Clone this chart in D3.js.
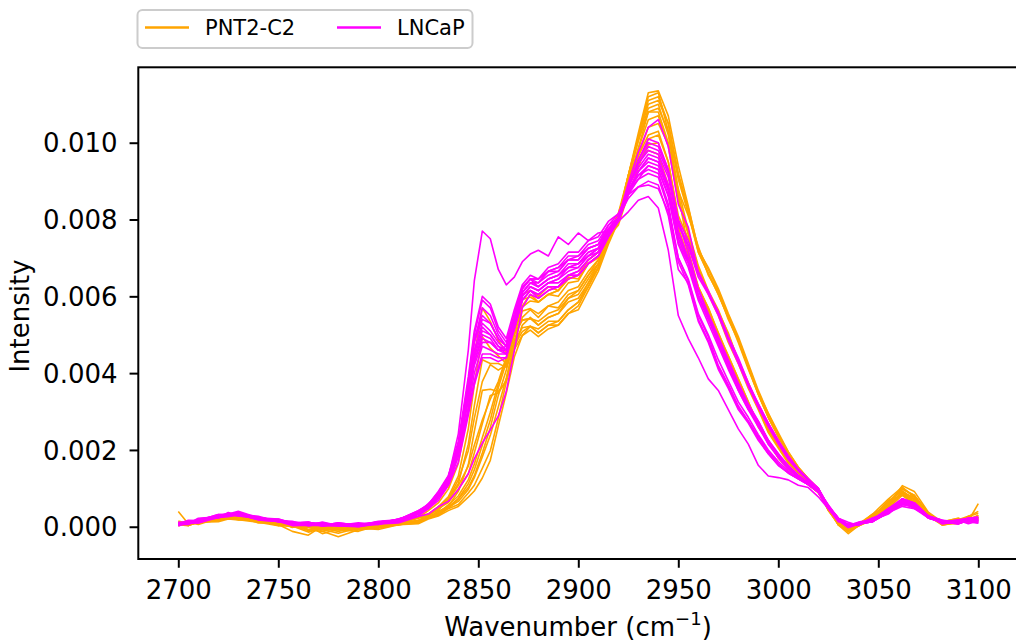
<!DOCTYPE html>
<head>
    <script src="https://d3js.org/d3.v7.min.js"></script>
    <title>Raman spectra PNT2-C2 vs LNCaP</title>
    <style>
        body { margin: 0; background: white; }
        text { font-family: "DejaVu Sans", sans-serif; }
    </style>
</head>
<body>
<svg width="1016" height="641" class="chart" style="background-color: white"></svg>
<script>
    // wavenumber grid (cm-1) the spectra were read at
    const wavenumbers = [
        2700, 2705, 2710, 2720, 2725, 2730, 2740, 2750, 2757, 2765,
        2772, 2780, 2790, 2800, 2810, 2820, 2825, 2830, 2835, 2840,
        2845, 2848, 2852, 2856, 2860, 2864, 2868, 2872, 2876, 2880,
        2885, 2890, 2895, 2900, 2905, 2910, 2915, 2920, 2925, 2930,
        2935, 2940, 2945, 2950, 2955, 2960, 2965, 2970, 2975, 2980,
        2985, 2990, 2995, 3000, 3005, 3010, 3015, 3020, 3025, 3030,
        3035, 3040, 3047, 3055, 3062, 3068, 3075, 3082, 3090, 3095, 3100];

    // intensities, in units of 1e-3
    const pntSpectra = [
        [0.40,0.08,0.14,0.20,0.30,0.22,0.20,0.08,0.06,-0.08, 0.04,-0.02,0.05,0.03,0.14,0.24,0.42,0.62,0.98,1.65,
         3.05,4.45,5.70,5.35,4.85,4.55,5.35,6.05,6.15,6.00, 6.25,6.15,6.50,6.45,6.85,7.05,7.55,7.85,8.65,9.35,
         10.10,10.20,9.50,8.10,7.50,6.60,6.05,5.50,4.80,4.25, 3.60,3.05,2.45,2.05,1.65,1.40,1.15,0.90,0.45,0.15,
         -0.02,0.08,0.18,0.52,0.92,0.70,0.28,0.12,0.18,0.15,0.60],
        [0.05,0.10,0.12,0.24,0.22,0.30,0.14,0.14,-0.02,0.08, -0.12,-0.02,0.02,0.06,0.08,0.24,0.33,0.52,0.78,1.32,
         2.55,3.70,4.95,4.65,4.45,4.25,5.05,5.75,6.05,5.85, 6.05,6.00,6.35,6.40,6.85,7.00,7.65,8.05,8.95,9.65,
         10.40,10.50,9.95,8.75,8.10,7.30,6.55,6.10,5.40,4.85, 4.15,3.45,2.85,2.35,1.90,1.50,1.20,0.95,0.42,0.08,
         -0.08,0.06,0.28,0.52,0.88,0.66,0.28,0.04,0.14,0.22,0.20],
        [0.10,0.03,0.12,0.16,0.27,0.20,0.14,0.06,-0.12,-0.22, 0.02,-0.08,0.02,0.00,0.10,0.16,0.32,0.43,0.72,1.12,
         2.15,3.15,4.35,4.25,4.25,4.15,4.85,5.45,5.65,5.45, 5.75,5.70,6.05,6.15,6.55,6.85,7.45,7.95,8.95,9.85,
         10.80,10.80,10.00,8.60,7.65,6.75,6.10,5.60,5.05,4.30, 3.75,3.10,2.50,2.10,1.70,1.40,1.15,0.90,0.48,0.12,
         -0.12,0.04,0.18,0.58,1.02,0.78,0.28,0.12,0.12,0.12,0.25],
        [0.08,0.12,0.10,0.22,0.20,0.27,0.13,0.06,0.00,0.02, -0.18,-0.06,-0.08,0.02,0.04,0.16,0.24,0.40,0.53,0.92,
         1.62,2.48,3.55,3.58,3.52,3.78,4.65,5.25,5.45,5.25, 5.45,5.55,5.85,5.95,6.35,6.75,7.45,8.05,9.15,10.15,
         11.10,11.20,10.50,9.20,8.30,7.25,6.70,6.15,5.50,4.90, 4.20,3.50,2.95,2.40,1.95,1.55,1.25,1.00,0.48,0.08,
         -0.08,0.06,0.22,0.68,0.82,0.72,0.28,0.12,0.22,0.12,0.30],
        [0.05,0.06,0.12,0.16,0.22,0.20,0.14,0.06,0.02,-0.08, -0.12,-0.26,-0.08,-0.04,0.06,0.10,0.22,0.30,0.47,0.58,
         0.88,1.08,1.52,1.98,2.82,3.78,4.62,4.98,5.12,4.95, 5.15,5.25,5.55,5.65,6.15,6.65,7.35,7.95,9.05,10.15,
         11.20,11.30,10.30,8.70,7.20,6.25,5.70,5.00,4.45,3.85, 3.25,2.65,2.25,1.85,1.55,1.30,1.10,0.90,0.52,0.05,
         -0.18,0.02,0.18,0.62,0.98,0.82,0.36,0.04,0.12,0.18,0.30],
        [0.02,0.12,0.06,0.22,0.23,0.22,0.13,0.07,0.03,-0.10, 0.02,-0.08,-0.12,0.04,0.06,0.17,0.23,0.40,0.48,0.72,
         1.02,1.33,1.92,2.58,3.42,4.08,4.82,5.18,5.22,5.15, 5.35,5.35,5.65,5.85,6.35,6.85,7.45,8.05,9.05,10.05,
         10.90,11.00,10.20,8.80,7.70,6.80,6.15,5.65,5.00,4.35, 3.70,3.10,2.55,2.10,1.70,1.45,1.15,0.92,0.48,0.10,
         -0.08,0.07,0.22,0.57,0.88,0.77,0.28,0.12,0.13,0.27,0.20],
        [0.10,0.03,0.14,0.20,0.27,0.26,0.20,0.08,0.07,0.00, -0.07,0.02,0.00,0.07,0.08,0.22,0.28,0.47,0.63,0.97,
         1.38,1.92,2.68,3.42,3.48,3.82,4.78,5.62,5.68,5.55, 5.75,5.85,6.15,6.25,6.65,6.95,7.55,8.05,8.95,9.65,
         10.20,10.30,9.50,8.00,7.10,6.20,5.70,5.05,4.40,3.80, 3.20,2.60,2.20,1.80,1.50,1.30,1.10,0.90,0.48,0.10,
         0.02,0.03,0.32,0.58,0.87,0.63,0.32,0.13,0.22,0.13,0.25],
        [0.05,0.03,0.12,0.13,0.20,0.18,0.12,0.03,0.02,-0.14, -0.03,-0.04,-0.03,-0.07,0.05,0.08,0.20,0.28,0.42,0.53,
         0.77,0.93,1.27,1.73,2.62,3.48,4.42,4.98,5.22,5.05, 5.25,5.25,5.55,5.75,6.25,6.75,7.45,8.05,9.15,10.25,
         11.30,11.35,10.70,9.40,8.35,7.20,6.75,6.20,5.55,4.95, 4.25,3.55,2.95,2.45,1.95,1.55,1.25,0.98,0.45,0.05,
         -0.12,0.02,0.18,0.57,1.07,0.92,0.38,0.12,0.13,0.27,0.35],
        [0.08,0.14,0.13,0.27,0.26,0.27,0.16,0.14,0.06,0.07, -0.02,0.04,0.03,0.10,0.10,0.24,0.30,0.50,0.68,1.07,
         1.58,2.12,2.78,3.32,3.78,4.42,5.18,5.92,5.98,5.85, 6.05,6.15,6.45,6.55,6.95,7.15,7.65,8.05,8.85,9.45,
         9.95,10.00,9.20,7.80,7.00,6.25,5.65,5.05,4.45,3.85, 3.25,2.65,2.20,1.80,1.50,1.30,1.10,0.88,0.52,0.15,
         0.02,0.08,0.27,0.48,0.82,0.58,0.27,0.08,0.17,0.18,0.15],
        [0.05,0.07,0.13,0.20,0.23,0.27,0.10,0.10,0.00,0.00, -0.07,-0.17,-0.03,-0.02,0.08,0.13,0.24,0.33,0.52,0.73,
         1.12,1.48,2.12,2.78,3.62,4.28,5.02,5.38,5.42,5.35, 5.55,5.65,5.95,6.05,6.45,6.85,7.45,7.95,8.95,9.85,
         10.60,10.70,9.90,8.50,7.60,6.70,6.10,5.55,4.95,4.35, 3.75,3.15,2.55,2.10,1.70,1.45,1.20,0.95,0.52,0.10,
         -0.07,0.07,0.23,0.62,0.98,0.82,0.33,0.07,0.08,0.17,0.25],
        [0.12,0.06,0.12,0.18,0.22,0.20,0.17,0.03,0.07,-0.07, -0.06,-0.07,0.02,0.00,0.08,0.12,0.24,0.32,0.50,0.66,
         0.97,1.28,1.82,2.38,3.12,3.88,4.72,5.08,5.22,5.05, 5.25,5.35,5.65,5.85,6.25,6.75,7.45,8.05,9.15,10.15,
         11.00,11.10,10.50,9.15,8.20,7.15,6.60,6.05,5.45,4.80, 4.10,3.45,2.85,2.35,1.90,1.55,1.25,0.95,0.48,0.05,
         -0.12,0.02,0.23,0.67,0.93,0.72,0.28,0.12,0.18,0.27,0.40],
        [0.05,0.12,0.10,0.24,0.26,0.30,0.18,0.14,0.03,0.02, 0.00,0.02,0.01,0.08,0.08,0.24,0.33,0.52,0.73,1.22,
         1.98,2.82,3.78,4.22,4.08,4.22,4.98,5.72,5.88,5.85, 6.05,6.15,6.45,6.55,6.95,7.15,7.65,8.15,8.95,9.55,
         9.80,9.70,8.90,7.70,6.95,6.20,5.60,5.00,4.40,3.80, 3.20,2.60,2.20,1.80,1.50,1.30,1.10,0.90,0.47,0.10,
         0.02,0.03,0.32,0.53,0.87,0.58,0.32,0.08,0.12,0.18,0.20],
        [0.15,0.08,0.14,0.16,0.24,0.18,0.17,0.08,0.00,-0.02, -0.03,-0.12,0.00,0.01,0.10,0.14,0.27,0.36,0.57,0.80,
         1.22,1.63,2.32,2.98,3.72,4.38,5.02,5.38,5.42,5.25, 5.45,5.55,5.95,6.15,6.55,6.95,7.55,8.15,9.15,10.05,
         10.80,10.90,10.30,9.05,8.15,7.15,6.60,6.05,5.45,4.85, 4.15,3.45,2.85,2.35,1.90,1.50,1.20,0.95,0.43,0.08,
         -0.07,0.07,0.32,0.72,1.03,0.77,0.28,0.12,0.13,0.17,0.25]
    ];

    const lncapSpectra = [
        [0.05,0.14,0.13,0.30,0.30,0.32,0.20,0.14,0.08,0.07, 0.06,0.08,0.02,0.12,0.16,0.37,0.53,0.87,1.28,2.42,
         4.60,6.40,7.70,7.50,6.70,6.30,6.50,6.90,7.10,7.20, 7.05,7.55,7.35,7.65,7.45,7.65,7.70,7.95,8.20,8.50,
         8.60,8.30,7.20,5.50,4.90,4.40,3.85,3.55,3.05,2.55, 2.15,1.60,1.32,1.28,1.22,1.08,1.02,0.78,0.47,0.13,
         0.07,0.08,0.17,0.33,0.62,0.48,0.27,0.08,0.14,0.13,0.10],
        [0.02,0.12,0.13,0.30,0.30,0.37,0.23,0.17,0.10,0.10, 0.03,0.10,0.03,0.12,0.18,0.42,0.58,0.92,1.33,2.22,
         3.90,5.10,6.00,5.80,5.20,4.90,5.65,6.30,6.55,6.45, 6.65,6.75,6.95,7.05,7.25,7.35,7.75,7.95,8.65,9.05,
         9.40,9.30,8.60,7.40,6.85,6.00,5.45,4.75,4.25,3.55, 3.05,2.70,2.15,1.85,1.55,1.30,1.15,0.95,0.53,0.22,
         0.03,0.07,0.13,0.37,0.58,0.57,0.28,0.17,0.13,0.22,0.15],
        [0.05,0.06,0.20,0.23,0.37,0.30,0.24,0.16,0.12,0.08, 0.10,0.03,0.10,0.06,0.20,0.36,0.60,0.83,1.32,2.08,
         3.80,5.00,5.90,5.70,5.10,4.80,5.55,6.25,6.45,6.35, 6.65,6.75,7.05,7.05,7.35,7.45,7.85,8.05,8.55,8.85,
         9.00,8.90,8.10,6.70,6.35,5.40,4.85,4.15,3.65,3.10, 2.75,2.30,1.90,1.60,1.40,1.25,1.10,0.90,0.48,0.22,
         0.12,0.03,0.22,0.38,0.72,0.48,0.27,0.08,0.12,0.13,0.10],
        [0.08,0.14,0.13,0.27,0.28,0.32,0.20,0.17,0.06,0.07, 0.03,0.04,0.03,0.10,0.13,0.37,0.53,0.82,1.18,2.02,
         3.60,4.80,5.70,5.50,5.00,4.70,5.35,6.00,6.25,6.15, 6.35,6.35,6.55,6.55,6.85,7.05,7.55,8.05,8.95,9.75,
         10.40,10.60,9.90,8.40,7.80,6.60,6.15,5.55,4.90,4.30, 3.70,3.15,2.65,2.20,1.80,1.50,1.20,1.00,0.53,0.22,
         0.03,0.07,0.18,0.47,0.73,0.62,0.28,0.12,0.13,0.22,0.20],
        [0.10,0.08,0.22,0.26,0.32,0.33,0.27,0.13,0.12,0.03, 0.12,0.03,0.07,0.08,0.20,0.33,0.57,0.78,1.27,2.03,
         3.50,4.60,5.30,5.10,4.80,4.60,5.35,6.10,6.35,6.25, 6.45,6.55,6.75,6.85,7.05,7.25,7.65,7.95,8.65,9.25,
         9.60,9.50,8.85,7.60,6.95,6.05,5.45,4.85,4.20,3.65, 3.10,2.70,2.20,1.85,1.55,1.30,1.15,0.95,0.57,0.18,
         0.07,0.08,0.22,0.38,0.67,0.53,0.27,0.13,0.17,0.08,0.15],
        [0.05,0.12,0.10,0.27,0.28,0.32,0.18,0.14,0.08,0.07, 0.03,0.07,0.00,0.10,0.13,0.37,0.50,0.80,1.18,2.02,
         3.50,4.50,5.20,5.00,4.70,4.60,5.25,6.00,6.25,6.15, 6.35,6.45,6.65,6.75,7.05,7.15,7.65,8.05,8.85,9.45,
         9.80,9.70,9.10,7.85,7.30,6.50,6.05,5.50,4.85,4.25, 3.65,3.10,2.60,2.15,1.75,1.45,1.20,1.00,0.53,0.22,
         0.03,0.07,0.13,0.37,0.68,0.62,0.28,0.17,0.08,0.17,0.20],
        [0.08,0.17,0.16,0.32,0.33,0.40,0.23,0.20,0.10,0.12, 0.03,0.10,0.04,0.12,0.16,0.34,0.48,0.77,1.13,1.92,
         3.30,4.30,5.00,4.90,4.60,4.50,5.15,5.90,6.15,6.05, 6.25,6.25,6.55,6.55,6.85,7.05,7.55,7.95,8.85,9.55,
         10.10,10.00,9.30,7.95,7.15,6.20,5.55,4.95,4.35,3.75, 3.20,2.75,2.25,1.90,1.60,1.35,1.15,0.95,0.48,0.17,
         0.03,0.07,0.18,0.42,0.73,0.62,0.28,0.12,0.13,0.22,0.25],
        [0.05,0.07,0.13,0.30,0.28,0.34,0.20,0.20,0.10,0.10, 0.08,0.07,0.03,0.14,0.18,0.42,0.56,0.90,1.28,2.12,
         3.40,4.30,4.90,4.80,4.60,4.60,5.35,6.20,6.45,6.45, 6.65,6.65,6.95,6.95,7.25,7.35,7.85,8.15,8.75,9.15,
         9.30,9.20,8.40,7.00,6.40,5.50,4.95,4.20,3.70,3.15, 2.75,2.35,1.95,1.65,1.40,1.25,1.10,0.90,0.48,0.17,
         -0.02,0.07,0.18,0.42,0.58,0.52,0.23,0.12,0.08,0.17,0.20],
        [0.10,0.14,0.13,0.27,0.30,0.32,0.20,0.17,0.08,0.10, 0.03,0.07,0.03,0.10,0.13,0.32,0.46,0.74,1.08,1.82,
         3.10,4.00,4.70,4.60,4.50,4.50,5.25,6.00,6.25,6.15, 6.35,6.45,6.75,6.75,7.05,7.25,7.65,8.05,8.75,9.25,
         9.50,9.40,8.75,7.50,6.90,6.00,5.40,4.80,4.15,3.60, 3.10,2.65,2.20,1.85,1.55,1.30,1.15,0.95,0.53,0.22,
         0.03,0.07,0.13,0.42,0.63,0.57,0.28,0.12,0.18,0.22,0.15],
        [0.05,0.12,0.16,0.32,0.30,0.37,0.23,0.17,0.10,0.10, 0.06,0.07,0.06,0.12,0.16,0.37,0.53,0.82,1.18,1.92,
         3.00,3.80,4.50,4.50,4.40,4.40,5.15,5.90,6.15,6.05, 6.25,6.25,6.55,6.65,6.95,7.15,7.65,8.05,8.85,9.45,
         9.90,9.80,9.20,7.90,7.35,6.60,6.10,5.55,4.90,4.35, 3.70,3.20,2.70,2.25,1.80,1.50,1.25,1.00,0.53,0.22,
         0.03,0.12,0.18,0.47,0.68,0.57,0.23,0.12,0.13,0.17,0.20],
        [0.12,0.08,0.17,0.23,0.30,0.28,0.22,0.13,0.10,0.03, 0.07,0.03,0.04,0.06,0.17,0.28,0.47,0.68,1.07,1.68,
         2.90,3.70,4.40,4.40,4.30,4.40,5.25,6.10,6.35,6.35, 6.55,6.65,6.95,6.95,7.25,7.35,7.75,8.05,8.75,9.05,
         9.20,9.10,8.30,6.90,6.30,5.35,4.80,4.10,3.60,3.05, 2.70,2.25,1.90,1.60,1.40,1.25,1.10,0.90,0.48,0.17,
         -0.02,0.07,0.18,0.37,0.58,0.52,0.23,0.12,0.08,0.22,0.15],
        [0.05,0.10,0.10,0.24,0.26,0.32,0.18,0.14,0.03,0.04, 0.03,0.02,0.00,0.07,0.10,0.27,0.33,0.52,0.66,0.97,
         1.38,1.77,2.18,2.52,2.88,3.52,4.58,5.70,6.05,5.95, 6.15,6.25,6.55,6.65,6.95,7.15,7.65,8.05,8.85,9.35,
         9.70,9.60,8.90,7.70,7.00,6.15,5.50,4.90,4.30,3.70, 3.15,2.75,2.25,1.90,1.55,1.30,1.15,0.95,0.53,0.22,
         0.03,0.07,0.18,0.42,0.68,0.57,0.28,0.12,0.08,0.17,0.20],
        [0.08,0.12,0.13,0.30,0.30,0.34,0.20,0.17,0.08,0.12, 0.03,0.07,0.06,0.12,0.18,0.40,0.58,0.90,1.28,2.17,
         3.70,4.80,5.40,5.30,4.90,4.70,5.45,6.20,6.45,6.45, 6.75,6.85,7.15,7.15,7.45,7.55,7.95,8.15,8.65,8.85,
         8.90,8.80,8.20,7.00,6.45,5.55,5.00,4.35,3.80,3.25, 2.85,2.40,2.00,1.70,1.45,1.25,1.10,0.90,0.48,0.22,
         0.03,0.07,0.13,0.37,0.53,0.47,0.23,0.12,0.13,0.17,0.10],
        [0.05,0.14,0.13,0.27,0.28,0.37,0.20,0.17,0.06,0.07, 0.06,0.07,0.03,0.10,0.16,0.37,0.50,0.80,1.16,1.97,
         3.40,4.40,5.10,5.00,4.70,4.50,5.15,5.90,6.15,5.95, 6.15,6.25,6.45,6.55,6.85,7.05,7.55,7.95,8.85,9.55,
         10.00,9.90,9.30,8.00,7.45,6.65,6.10,5.60,4.95,4.40, 3.75,3.20,2.70,2.25,1.85,1.50,1.25,1.00,0.53,0.22,
         0.03,0.07,0.18,0.47,0.72,0.62,0.28,0.12,0.13,0.22,0.25],
        [0.10,0.08,0.20,0.28,0.35,0.28,0.24,0.16,0.14,0.03, 0.07,0.06,0.07,0.08,0.20,0.33,0.57,0.80,1.24,1.98,
         3.30,4.20,4.80,4.80,4.60,4.70,5.45,6.20,6.45,6.25, 6.45,6.55,6.85,6.85,7.15,7.25,7.75,8.05,8.75,9.15,
         9.40,9.30,8.65,7.35,6.75,5.90,5.30,4.70,4.10,3.55, 3.05,2.60,2.15,1.80,1.50,1.30,1.15,0.95,0.53,0.22,
         0.03,0.07,0.22,0.38,0.62,0.53,0.28,0.17,0.08,0.17,0.15],
        [0.05,0.12,0.13,0.27,0.28,0.34,0.23,0.17,0.08,0.10, 0.03,0.07,0.03,0.12,0.16,0.40,0.56,0.87,1.23,2.12,
         3.70,4.90,5.50,5.30,4.90,4.70,5.35,6.10,6.35,6.25, 6.45,6.55,6.75,6.85,7.15,7.25,7.75,8.05,8.75,9.25,
         9.60,9.50,8.80,7.50,6.90,6.00,5.40,4.85,4.25,3.70, 3.15,2.70,2.25,1.85,1.55,1.30,1.15,0.95,0.57,0.22,
         0.03,0.07,0.13,0.42,0.72,0.53,0.23,0.12,0.17,0.22,0.15]
    ];

    const groups = ["PNT2-C2", "LNCaP"];
    const groupColors = ["orange", "magenta"];
    const xTicks = [2700, 2750, 2800, 2850, 2900, 2950, 3000, 3050, 3100];
    const yTicks = [0, 0.002, 0.004, 0.006, 0.008, 0.010];

    const margin = {top: 67.3, right: -2.3, bottom: 82, left: 138.3},
        width = 1016 - margin.left - margin.right,
        height = 641 - margin.top - margin.bottom;

    const svg = d3.select(".chart");

    const x = d3.scaleLinear().domain([2680, 3120]).range([0, width]);
    const y = d3.scaleLinear().domain([-0.00084, 0.011964]).range([height, 0]);

    const g = svg.append("g")
        .attr("transform", "translate(" + margin.left + "," + margin.top + ")");

    g.append("clipPath").attr("id", "plotClip")
        .append("rect").attr("width", width).attr("height", height);

    const line = d3.line()
        .x(function(d, i){ return x(wavenumbers[i]); })
        .y(function(d){ return y(d * 1e-3); });

    const lines = g.append("g").attr("clip-path", "url(#plotClip)");

    [pntSpectra, lncapSpectra].forEach(function(set, k){
        lines.append("g")
            .selectAll("path")
            .data(set)
            .enter()
            .append("path")
            .attr("d", line)
            .attr("fill", "none")
            .attr("stroke", groupColors[k])
            .attr("stroke-width", 1.6)
            .attr("stroke-linejoin", "round");
    });

    // axes
    const xAxis = g.append("g")
        .attr("transform", "translate(0," + height + ")")
        .call(d3.axisBottom(x).tickValues(xTicks).tickFormat(d3.format("d"))
            .tickSize(8.75).tickSizeOuter(0).tickPadding(13));
    const yAxis = g.append("g")
        .call(d3.axisLeft(y).tickValues(yTicks).tickFormat(d3.format(".3f"))
            .tickSize(8.75).tickSizeOuter(0).tickPadding(12));

    [xAxis, yAxis].forEach(function(a){
        a.select(".domain").remove();
        a.selectAll(".tick line").attr("stroke", "black").attr("stroke-width", 2);
        a.selectAll(".tick text")
            .attr("fill", "black")
            .style("font-size", "26px")
            .style("font-family", "DejaVu Sans");
    });
    yAxis.selectAll(".tick text").attr("dy", "0.35em");

    // frame
    g.append("rect")
        .attr("width", width)
        .attr("height", height)
        .attr("fill", "none")
        .attr("stroke", "black")
        .attr("stroke-width", 2);

    svg.append("text")
        .attr("transform", "translate(29,316) rotate(-90)")
        .attr("text-anchor", "middle")
        .style("font-size", "26px")
        .text("Intensity");

    const xl = svg.append("text")
        .attr("x", 578)
        .attr("y", 636)
        .attr("text-anchor", "middle")
        .style("font-size", "26px");
    xl.append("tspan").text("Wavenumber (cm");
    xl.append("tspan").attr("dy", -11).style("font-size", "18px").text("\u22121");
    xl.append("tspan").attr("dy", 11).text(")");

    // legend
    const legend = svg.append("g");
    legend.append("rect")
        .attr("x", 137.5).attr("y", 10)
        .attr("width", 335).attr("height", 38)
        .attr("rx", 5)
        .attr("fill", "white")
        .attr("stroke", "#cccccc")
        .attr("stroke-width", 2);
    const legendX = [145, 337];
    groups.forEach(function(name, i){
        legend.append("line")
            .attr("x1", legendX[i]).attr("x2", legendX[i] + 44)
            .attr("y1", 27.5).attr("y2", 27.5)
            .attr("stroke", groupColors[i])
            .attr("stroke-width", 2.6);
        legend.append("text")
            .attr("x", legendX[i] + 60)
            .attr("y", 35)
            .style("font-size", "21px")
            .text(name);
    });
</script>
</body>
